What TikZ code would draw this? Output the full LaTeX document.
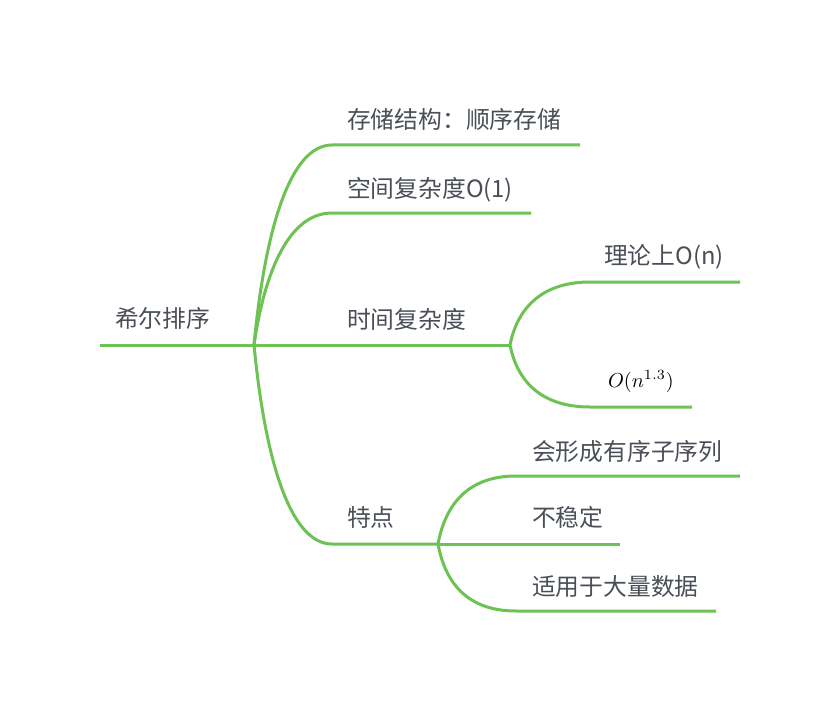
\RequirePackage{fix-cm}
\documentclass[tikz,border=0pt]{standalone}
\usepackage{fontspec}
\setmainfont{Noto Sans CJK SC}
\usetikzlibrary{calc}
\definecolor{brgreen}{RGB}{108,194,82}
\definecolor{txtgray}{RGB}{74,79,87}
\begin{document}
\begin{tikzpicture}[x=1pt,y=-1pt,
  br/.style={draw=brgreen,line width=3pt,line cap=butt},
  lbl/.style={anchor=base west,inner sep=0pt,outer sep=0pt,text=txtgray,font=\fontsize{23.8}{24}\selectfont},
  mlbl/.style={anchor=base west,inner sep=0pt,outer sep=0pt,text=black}]
\useasboundingbox[fill=white] (0,0) rectangle (840,714);
% junction coordinates
\coordinate (r0) at (100,345);
\coordinate (j) at (254,345);
\coordinate (b1s) at (332,145); \coordinate (b1e) at (580,145);
\coordinate (b2s) at (332,213); \coordinate (b2e) at (531,213);
\coordinate (t) at (510,345);
\coordinate (b4s) at (332,544); \coordinate (f) at (438,544);
\coordinate (t1s) at (590,282); \coordinate (t1e) at (740,282);
\coordinate (t2s) at (590,407); \coordinate (t2e) at (692,407);
\coordinate (f1s) at (516,476); \coordinate (f1e) at (740,476);
\coordinate (f2e) at (620,544);
\coordinate (f3s) at (516,611); \coordinate (f3e) at (716,611);
% labels
\node[lbl] (root) at (115,327) {希尔排序};
\node[lbl] (n1) at (347,129) {存储结构：顺序存储};
\node[lbl] (n2) at (347,197) {空间复杂度O(1)};
\node[lbl] (n3) at (347,328) {时间复杂度};
\node[lbl] (n4) at (347,526) {特点};
\node[lbl] (n31) at (604,264) {理论上O(n)};
\node[mlbl] (n32) at (608,387) {\scalebox{2.02}{$O(n^{1.3})$}};
\node[lbl] (n41) at (532,460) {会形成有序子序列};
\node[lbl] (n42) at (532,526) {不稳定};
\node[lbl] (n43) at (532,595) {适用于大量数据};
% branches
\draw[br] (r0) -- (j);
\draw[br] (j) .. controls +(11,-115) and +(-42,0) .. (b1s) -- (b1e);
\draw[br] (j) .. controls +(11,-76) and +(-42,0) .. (b2s) -- (b2e);
\draw[br] (j) -- (t);
\draw[br] (j) .. controls +(11,114) and +(-42,0) .. (b4s) -- (f);
\draw[br] (t) .. controls +(8,-40) and +(-45,0) .. (t1s) -- (t1e);
\draw[br] (t) .. controls +(8,40) and +(-45,0) .. (t2s) -- (t2e);
\draw[br] (f) .. controls +(8,-43) and +(-45,0) .. (f1s) -- (f1e);
\draw[br] (f) -- (f2e);
\draw[br] (f) .. controls +(8,43) and +(-45,0) .. (f3s) -- (f3e);
\end{tikzpicture}
\end{document}
